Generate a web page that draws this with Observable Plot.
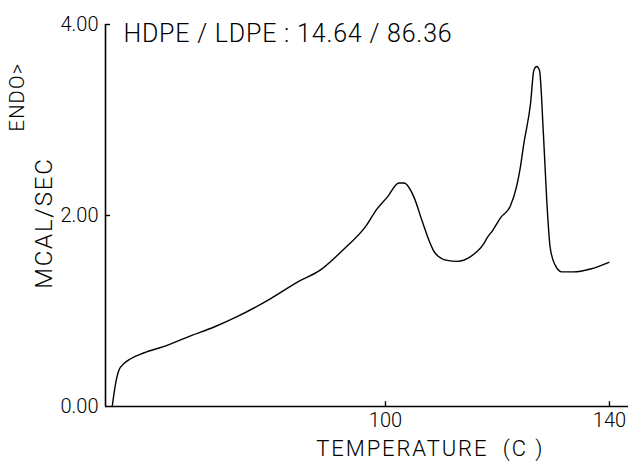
<!DOCTYPE html>
<html>
<head>
<meta charset="utf-8">
<script src="https://cdn.jsdelivr.net/npm/d3@7"></script>
<script src="https://cdn.jsdelivr.net/npm/@observablehq/plot@0.6"></script>
<style>
  html, body { margin: 0; padding: 0; background: #fff; }
  #chart svg { display: block; }
</style>
</head>
<body>
<div id="chart"></div>
<script>
const temperature = [51.2, 51.8, 52.4, 53.3, 54.5, 56.8, 61.0, 65.2, 69.3, 73.5, 79.5, 84.2, 88.4, 92.6, 96.4, 98.5, 100.3, 102.4, 103.3, 105.1, 106.5, 107.9, 108.6, 110.0, 111.0, 112.8, 115.2, 117.5, 118.2, 119.1, 120.6, 122.3, 123.4, 124.1, 124.7, 125.9, 126.5, 127.0, 127.5, 128.2, 128.8, 129.4, 130.3, 131.5, 133.6, 136.6, 139.9];
const heatFlow = [0, 0.24, 0.38, 0.45, 0.50, 0.56, 0.64, 0.74, 0.83, 0.94, 1.13, 1.30, 1.43, 1.65, 1.88, 2.07, 2.19, 2.34, 2.34, 2.19, 1.95, 1.72, 1.63, 1.55, 1.53, 1.52, 1.57, 1.70, 1.77, 1.84, 1.98, 2.10, 2.30, 2.51, 2.75, 3.17, 3.52, 3.56, 3.52, 2.86, 2.16, 1.67, 1.48, 1.41, 1.41, 1.44, 1.51];
const xTicks = [100, 140];
const yTicks = [0, 2, 4];
const titleText = "HDPE / LDPE : 14.64 / 86.36";
const xLabel = "TEMPERATURE  (C )";
const yLabel = "MCAL/SEC";
const yLabel2 = "ENDO>";

const data = temperature.map((t, i) => ({t, q: heatFlow[i]}));
const xDomain = [50, 143.4];
const font = "Roboto, 'DejaVu Sans', sans-serif";

const plot = Plot.plot({
  width: 628,
  height: 462,
  marginLeft: 105,
  marginRight: 0,
  marginTop: 24,
  marginBottom: 56,
  style: {fontFamily: font, background: "#fff", color: "#000"},
  x: {domain: xDomain},
  y: {domain: [0, 4]},
  marks: [
    Plot.axisX({ticks: xTicks, tickSize: 0, tickPadding: 6, fontSize: 20, fontWeight: 300, label: null}),
    Plot.axisY({ticks: yTicks, tickSize: 0, tickPadding: 7, fontSize: 20, fontWeight: 300, tickFormat: d3.format(".2f"), label: null}),
    Plot.ruleY([0], {x1: xDomain[0], x2: xDomain[1], stroke: "#000", strokeWidth: 1.6}),
    Plot.ruleX([xDomain[0]], {y1: 0, y2: 4, stroke: "#000", strokeWidth: 1.6}),
    Plot.ruleY(yTicks.filter(d => d > 0), {y: d => d, x1: xDomain[0], x2: xDomain[0] + 0.9, stroke: "#000", strokeWidth: 1.4}),
    Plot.ruleX(xTicks, {x: d => d, y1: 0, y2: 0.05, stroke: "#000", strokeWidth: 1.4}),
    Plot.line(data, {x: "t", y: "q", curve: "monotone-x", stroke: "#000", strokeWidth: 1.4}),
    Plot.text([titleText], {x: 53.2, y: 3.9, text: d => d, textAnchor: "start", lineAnchor: "middle", fontSize: 25, fontWeight: 300, fill: "#000"}),
    Plot.text([xLabel], {x: 108, frameAnchor: "bottom", dy: 42, text: d => d, textAnchor: "middle", lineAnchor: "middle", fontSize: 22, fontWeight: 300, fill: "#000"}),
    Plot.text([yLabel], {y: 1.92, frameAnchor: "left", dx: -61, rotate: -90, text: d => d, textAnchor: "middle", lineAnchor: "middle", fontSize: 24, fontWeight: 300, fill: "#000"}),
    Plot.text([yLabel2], {y: 3.24, frameAnchor: "left", dx: -88, rotate: -90, text: d => d, textAnchor: "middle", lineAnchor: "middle", fontSize: 20, fontWeight: 300, fill: "#000"})
  ]
});
const spacing = new Map([[titleText, "0.8px"], [xLabel, "1.9px"], [yLabel, "1.8px"], [yLabel2, "1.2px"]]);
d3.select(plot).selectAll("text").each(function() {
  const s = spacing.get(this.textContent);
  if (s) this.style.letterSpacing = s;
});
document.getElementById("chart").appendChild(plot);
</script>
</body>
</html>
